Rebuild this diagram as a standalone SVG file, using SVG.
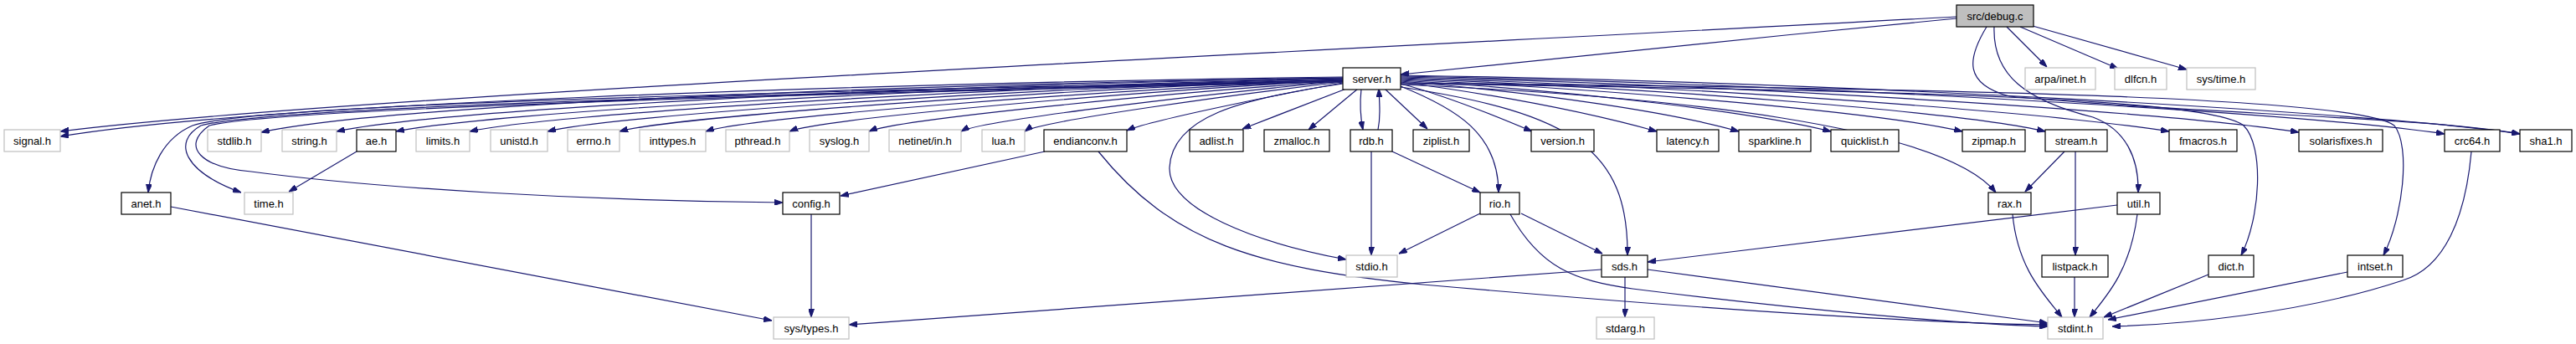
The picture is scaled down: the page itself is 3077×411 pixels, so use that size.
<svg xmlns="http://www.w3.org/2000/svg" width="3077" height="411" viewBox="0 0 3077 411">
<style>
.n rect{fill:#fff;stroke:#000;stroke-width:1.2}
.s rect{fill:#fff;stroke:#bfbfbf;stroke-width:1.2}
.r rect{fill:#bfbfbf;stroke:#000;stroke-width:1.2}
text{font-family:"Liberation Sans",Arial,sans-serif;font-size:13px;text-anchor:middle;fill:#000}
#edges path{fill:none;stroke:#191970;stroke-width:1.2;marker-end:url(#a)}
</style>
<defs>
<marker id="a" viewBox="0 0 10 7" refX="10" refY="3.5" markerWidth="10" markerHeight="7" markerUnits="userSpaceOnUse" orient="auto">
<path d="M0,0 L10,3.5 L0,7 z" fill="#191970" stroke="#191970"/>
</marker>
</defs>
<rect width="3077" height="411" fill="#fff"/>
<g id="edges">
<path d="M2337,20 C1600,60 400,115 72,157"/>
<path d="M2337,22 C2100,45 1800,75 1673,89"/>
<path d="M2397,32 L2445,80"/>
<path d="M2413,32 L2530,82"/>
<path d="M2428,31 L2612,83"/>
<path d="M2373,32 C2350,70 2345,100 2400,115 C2600,135 2900,140 3010,160"/>
<path d="M2382,32 C2380,90 2420,120 2500,140 C2540,155 2555,190 2554,230"/>
<path d="M1604,92 C1000,100 300,125 72,163"/>
<path d="M1604,93 C1000,102 450,128 312,158"/>
<path d="M1604,93 C1050,103 520,132 402,157"/>
<path d="M1604,94 C1100,104 580,135 473,157"/>
<path d="M1604,94 C1150,105 650,137 561,157"/>
<path d="M1604,95 C1200,106 730,138 654,157"/>
<path d="M1604,95 C1250,107 800,140 740,157"/>
<path d="M1604,96 C1300,108 890,141 843,157"/>
<path d="M1604,96 C1350,109 980,142 943,157"/>
<path d="M1604,97 C1400,110 1070,143 1038,157"/>
<path d="M1604,97 C1450,111 1170,144 1148,157"/>
<path d="M1604,98 C1480,112 1240,145 1224,157"/>
<path d="M1604,99 C1520,114 1370,145 1346,156"/>
<path d="M1608,106 L1484,154"/>
<path d="M1622,106 L1563,155"/>
<path d="M1626,106 C1624,125 1625,140 1628,155"/>
<path d="M1646,155 C1649,140 1648,125 1647,106"/>
<path d="M1654,106 L1705,154"/>
<path d="M1604,96 C900,110 300,125 230,150 C195,165 180,200 177,230"/>
<path d="M1604,97 C900,112 320,128 240,150 C205,170 220,205 288,230"/>
<path d="M1604,98 C900,113 330,130 250,150 C215,175 240,200 300,205 C450,225 700,240 935,242"/>
<path d="M1604,100 C1480,118 1400,140 1397,200 C1395,250 1500,290 1608,310"/>
<path d="M1673,100 C1730,115 1790,140 1830,157"/>
<path d="M1673,98 C1800,115 1900,135 1979,157"/>
<path d="M1673,97 C1850,112 2000,135 2077,157"/>
<path d="M1673,96 C1900,110 2100,135 2187,157"/>
<path d="M1673,95 C1950,108 2250,135 2344,157"/>
<path d="M1673,94 C2000,106 2350,135 2443,157"/>
<path d="M1673,93 C2050,104 2450,135 2591,157"/>
<path d="M1673,92 C2100,102 2600,135 2746,158"/>
<path d="M1673,91 C2150,100 2750,135 2920,160"/>
<path d="M1673,90 C2200,98 2850,135 3010,160"/>
<path d="M1673,103 C1740,130 1790,160 1790,230"/>
<path d="M1673,104 C1880,135 1945,180 1944,305"/>
<path d="M1673,101 C2000,115 2320,150 2384,230"/>
<path d="M1673,100 C2300,108 2640,118 2680,150 C2705,175 2700,260 2677,305"/>
<path d="M1673,99 C2400,106 2820,118 2860,150 C2880,175 2870,260 2847,305"/>
<path d="M426,181 L345,229"/>
<path d="M204,247 L922,383"/>
<path d="M969,256 L969,379"/>
<path d="M1248,181 L1004,234"/>
<path d="M1312,181 C1400,290 1500,320 1700,340 C1950,362 2250,385 2446,388"/>
<path d="M1638,181 L1638,305"/>
<path d="M1663,181 L1768,230"/>
<path d="M1768,255 L1671,303"/>
<path d="M1817,255 L1914,303"/>
<path d="M1804,256 C1840,320 1880,335 1950,345 C2150,370 2350,388 2446,390"/>
<path d="M1913,322 L1014,388"/>
<path d="M1941,331 L1941,379"/>
<path d="M1968,322 L2446,386"/>
<path d="M2529,245 L1968,313"/>
<path d="M2553,256 C2545,320 2520,350 2496,379"/>
<path d="M2404,256 C2410,320 2440,350 2463,379"/>
<path d="M2478,331 L2478,379"/>
<path d="M2638,328 L2513,379"/>
<path d="M2804,325 L2518,382"/>
<path d="M2952,181 C2945,260 2920,320 2870,335 C2750,375 2600,388 2523,390"/>
<path d="M2466,181 L2419,229"/>
<path d="M2479,181 L2479,305"/>
</g>
<g id="n_debug" class="r"><rect x="2337" y="6" width="92" height="26"/><text x="2383" y="24">src/debug.c</text></g>
<g id="n_server" class="n"><rect x="1604" y="81" width="69" height="26"/><text x="1638.5" y="99">server.h</text></g>
<g id="n_arpa" class="s"><rect x="2419" y="81" width="84" height="26"/><text x="2461" y="99">arpa/inet.h</text></g>
<g id="n_dlfcn" class="s"><rect x="2526" y="81" width="62" height="26"/><text x="2557" y="99">dlfcn.h</text></g>
<g id="n_systime" class="s"><rect x="2612" y="81" width="82" height="26"/><text x="2653" y="99">sys/time.h</text></g>
<g id="n_signal" class="s"><rect x="5" y="155" width="67" height="26"/><text x="38.5" y="173">signal.h</text></g>
<g id="n_stdlib" class="s"><rect x="248" y="155" width="64" height="26"/><text x="280" y="173">stdlib.h</text></g>
<g id="n_string" class="s"><rect x="337" y="155" width="65" height="26"/><text x="369.5" y="173">string.h</text></g>
<g id="n_ae" class="n"><rect x="426" y="155" width="47" height="26"/><text x="449.5" y="173">ae.h</text></g>
<g id="n_limits" class="s"><rect x="497" y="155" width="64" height="26"/><text x="529" y="173">limits.h</text></g>
<g id="n_unistd" class="s"><rect x="586" y="155" width="68" height="26"/><text x="620" y="173">unistd.h</text></g>
<g id="n_errno" class="s"><rect x="678" y="155" width="62" height="26"/><text x="709" y="173">errno.h</text></g>
<g id="n_inttypes" class="s"><rect x="764" y="155" width="79" height="26"/><text x="803.5" y="173">inttypes.h</text></g>
<g id="n_pthread" class="s"><rect x="867" y="155" width="76" height="26"/><text x="905" y="173">pthread.h</text></g>
<g id="n_syslog" class="s"><rect x="967" y="155" width="71" height="26"/><text x="1002.5" y="173">syslog.h</text></g>
<g id="n_netinet" class="s"><rect x="1062" y="155" width="86" height="26"/><text x="1105" y="173">netinet/in.h</text></g>
<g id="n_lua" class="s"><rect x="1173" y="155" width="51" height="26"/><text x="1198.5" y="173">lua.h</text></g>
<g id="n_endianconv" class="n"><rect x="1247" y="155" width="99" height="26"/><text x="1296.5" y="173">endianconv.h</text></g>
<g id="n_adlist" class="n"><rect x="1421" y="155" width="64" height="26"/><text x="1453" y="173">adlist.h</text></g>
<g id="n_zmalloc" class="n"><rect x="1510" y="155" width="78" height="26"/><text x="1549" y="173">zmalloc.h</text></g>
<g id="n_rdb" class="n"><rect x="1613" y="155" width="50" height="26"/><text x="1638" y="173">rdb.h</text></g>
<g id="n_ziplist" class="n"><rect x="1688" y="155" width="67" height="26"/><text x="1721.5" y="173">ziplist.h</text></g>
<g id="n_version" class="n"><rect x="1829" y="155" width="75" height="26"/><text x="1866.5" y="173">version.h</text></g>
<g id="n_latency" class="n"><rect x="1979" y="155" width="74" height="26"/><text x="2016" y="173">latency.h</text></g>
<g id="n_sparkline" class="n"><rect x="2077" y="155" width="86" height="26"/><text x="2120" y="173">sparkline.h</text></g>
<g id="n_quicklist" class="n"><rect x="2187" y="155" width="81" height="26"/><text x="2227.5" y="173">quicklist.h</text></g>
<g id="n_zipmap" class="n"><rect x="2344" y="155" width="75" height="26"/><text x="2381.5" y="173">zipmap.h</text></g>
<g id="n_stream" class="n"><rect x="2443" y="155" width="74" height="26"/><text x="2480" y="173">stream.h</text></g>
<g id="n_fmacros" class="n"><rect x="2591" y="155" width="81" height="26"/><text x="2631.5" y="173">fmacros.h</text></g>
<g id="n_solarisfixes" class="n"><rect x="2746" y="155" width="100" height="26"/><text x="2796" y="173">solarisfixes.h</text></g>
<g id="n_crc64" class="n"><rect x="2920" y="155" width="66" height="26"/><text x="2953" y="173">crc64.h</text></g>
<g id="n_sha1" class="n"><rect x="3010" y="155" width="62" height="26"/><text x="3041" y="173">sha1.h</text></g>
<g id="n_anet" class="n"><rect x="145" y="230" width="59" height="26"/><text x="174.5" y="248">anet.h</text></g>
<g id="n_time" class="s"><rect x="292" y="230" width="58" height="26"/><text x="321" y="248">time.h</text></g>
<g id="n_config" class="n"><rect x="935" y="230" width="68" height="26"/><text x="969" y="248">config.h</text></g>
<g id="n_rio" class="n"><rect x="1768" y="230" width="47" height="26"/><text x="1791.5" y="248">rio.h</text></g>
<g id="n_rax" class="n"><rect x="2375" y="230" width="51" height="26"/><text x="2400.5" y="248">rax.h</text></g>
<g id="n_util" class="n"><rect x="2529" y="230" width="51" height="26"/><text x="2554.5" y="248">util.h</text></g>
<g id="n_stdio" class="s"><rect x="1608" y="305" width="61" height="26"/><text x="1638.5" y="323">stdio.h</text></g>
<g id="n_sds" class="n"><rect x="1913" y="305" width="55" height="26"/><text x="1940.5" y="323">sds.h</text></g>
<g id="n_listpack" class="n"><rect x="2439" y="305" width="79" height="26"/><text x="2478.5" y="323">listpack.h</text></g>
<g id="n_dict" class="n"><rect x="2638" y="305" width="54" height="26"/><text x="2665" y="323">dict.h</text></g>
<g id="n_intset" class="n"><rect x="2804" y="305" width="66" height="26"/><text x="2837" y="323">intset.h</text></g>
<g id="n_systypes" class="s"><rect x="924" y="379" width="90" height="26"/><text x="969" y="397">sys/types.h</text></g>
<g id="n_stdarg" class="s"><rect x="1907" y="379" width="69" height="26"/><text x="1941.5" y="397">stdarg.h</text></g>
<g id="n_stdint" class="s"><rect x="2446" y="379" width="66" height="26"/><text x="2479" y="397">stdint.h</text></g>
</svg>
